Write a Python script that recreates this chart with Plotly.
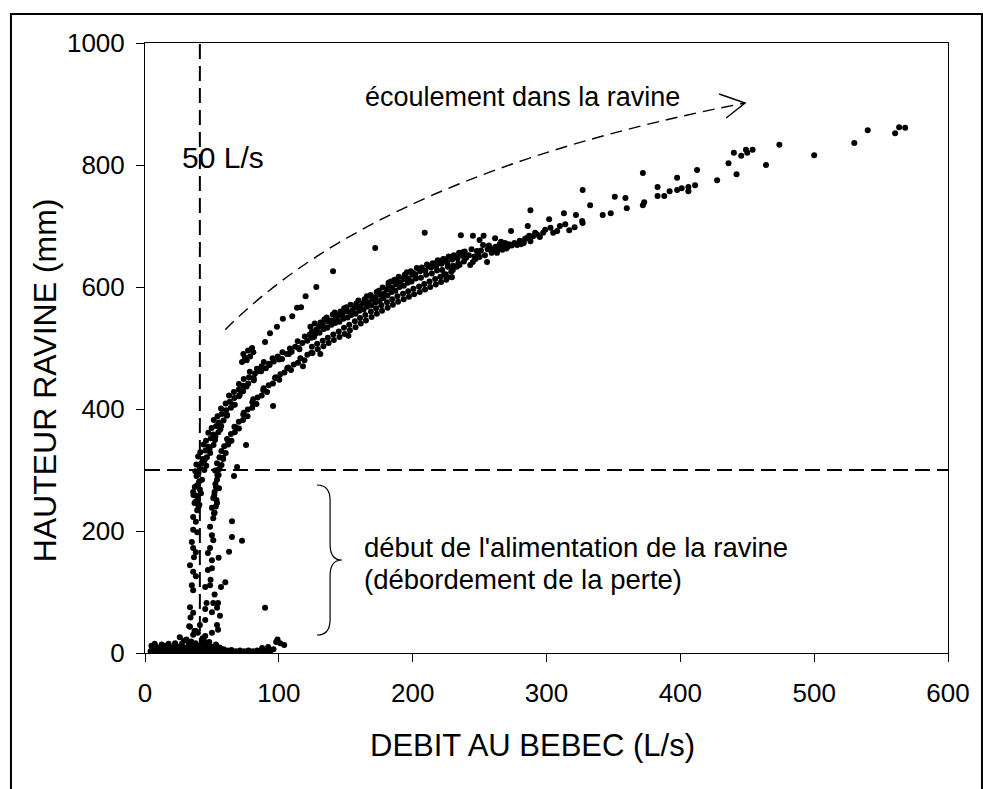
import plotly.graph_objects as go

# --- Débit au Bebec (L/s) et hauteur dans la ravine (mm) -------------------

# nuage de points à faible débit, hauteur quasi nulle
base_q = [4.2, 5.5, 6.8, 8.0, 9.3, 10.5, 11.8, 13.0, 14.2, 15.5, 16.9, 18.0, 19.4, 20.6,
          21.9, 23.0, 24.3, 25.7, 27.0, 28.2, 29.5, 30.8, 32.0, 33.3, 34.6, 35.8, 37.0,
          38.4, 39.6, 40.9, 42.1, 43.4, 44.7, 46.0, 47.2, 48.5, 49.8, 51.0, 52.3, 53.6,
          54.9, 56.1, 57.4, 58.7, 60.0, 61.5, 63.0, 64.6, 66.2, 67.8, 69.4, 71.0, 72.6,
          74.2, 75.8, 77.4, 79.0, 80.6, 82.2, 83.8, 85.4, 87.0, 88.6, 90.0,
          4.8, 7.2, 9.9, 12.4, 15.0, 17.6, 20.1, 22.5, 25.0, 27.6, 30.1, 32.7, 35.3,
          37.8, 40.2, 42.8, 45.4, 47.9, 50.5, 53.0, 55.6,
          26.0, 29.0, 33.6, 41.0, 36.0, 43.0, 38.0, 45.0, 44.0, 48.0, 31.0, 39.5, 34.5,
          93.4, 87.5, 98.0, 104.0, 101.0, 96.0, 92.0, 99.0]
base_h = [3, 8, 2, 11, 4, 1, 9, 3, 12, 5, 2, 10, 6, 1,
          13, 4, 8, 2, 11, 5, 1, 9, 3, 14, 6, 2, 10,
          4, 1, 12, 5, 8, 2, 11, 4, 1, 7, 3, 10, 5,
          2, 8, 3, 6, 1, 4, 2, 5, 1, 3, 2, 4, 1,
          3, 2, 4, 1, 3, 2, 4, 1, 3, 5, 2,
          12, 15, 7, 14, 9, 15, 8, 16, 10, 15, 7, 17, 11,
          16, 8, 18, 12, 16, 10, 14, 9,
          26, 20, 43, 46, 30, 24, 36, 28, 20, 18, 22, 33, 19,
          2, 8, 18, 13, 16, 6, 10, 22]

# montée brutale entre 0 et 300 mm (deux colonnes autour de 40 et 52 L/s)
rise_q = [40.0, 42.6, 39.0, 41.0, 36.0, 38.0, 36.2, 39.6, 37.0, 40.0, 39.0, 36.0, 38.0,
          36.0, 39.0, 35.0, 36.0, 38.0, 36.6, 33.6, 36.0, 38.0, 35.0, 36.0, 33.6, 36.0,
          34.0, 33.0, 37.0, 38.5, 40.5, 37.2, 41.8, 39.2, 37.8, 40.6,
          54.6, 53.8, 55.0, 52.0, 53.0, 51.0, 53.8, 50.0, 52.0, 51.0, 48.6, 50.0, 51.0,
          48.6, 47.0, 50.0, 47.0, 50.0, 45.0, 48.6, 46.0, 51.0, 54.6, 53.8, 45.0, 50.0,
          56.0, 45.0, 53.8, 50.0, 54.6, 56.8, 60.0, 55.0, 49.0, 52.0,
          54.1, 52.6, 55.3, 51.8, 53.4, 52.9, 51.6]
rise_h = [295, 284, 275, 268, 264, 258, 259, 251, 246, 240, 234, 223, 215,
          202, 198, 182, 172, 165, 157, 144, 133, 126, 111, 103, 75, 66,
          58, 44, 36, 290, 281, 272, 262, 256, 248, 243,
          300, 284, 292, 264, 272, 254, 246, 238, 230, 221, 207, 193, 185,
          172, 164, 152, 136, 139, 108, 111, 82, 82, 82, 74, 72, 67,
          61, 54, 46, 33, 38, 108, 116, 156, 120, 96,
          292, 277, 270, 259, 251, 240, 229]

# bande supérieure (crue montante)
upper_q = [37.6, 41.2, 44.3, 38.4, 42.1, 45.8, 39.7, 43.0, 46.2, 41.3, 45.1, 48.7,
           43.8, 47.4, 51.2, 45.6, 49.2, 52.3, 47.3, 51.1, 54.8, 49.8, 53.2, 56.3,
           51.4, 55.2, 58.7, 54.2, 57.3, 61.1, 56.8, 60.6, 64.2, 60.3, 63.4, 67.1,
           62.8, 66.7, 70.2, 66.4, 70.1, 73.3, 70.2, 73.6, 77.2, 73.8, 77.7, 81.3,
           78.3, 82.2, 85.4, 83.6, 87.1, 90.3, 88.8, 92.6, 96.2, 95.3, 99.2, 102.4,
           102.7, 106.1, 109.6, 108.3, 112.2, 115.4, 114.1, 117.6, 121.2, 119.4, 123.1, 126.3,
           124.2, 124.8, 123.6, 127.3, 127.9, 126.8, 130.4, 130.1, 131.2, 133.5, 132.9, 134.1,
           136.2, 136.8, 135.7, 139.4, 139.0, 140.3, 142.1, 142.7, 141.8, 145.3, 145.0, 146.1,
           148.2, 147.6, 148.9, 151.4, 151.0, 150.5, 154.1, 154.7, 153.6, 157.3, 156.8, 157.9,
           160.2, 160.6, 159.5, 163.4, 163.0, 164.1, 166.1, 166.7, 165.8, 169.2, 169.8, 168.6,
           172.4, 172.0, 173.1, 175.3, 175.9, 174.7, 178.1, 178.6, 177.5, 181.2, 180.8, 181.9,
           184.3, 184.9, 183.7, 187.1, 187.6, 186.4, 190.2, 190.8, 189.6, 193.4, 193.0, 194.1,
           196.3, 196.9, 195.7, 199.2, 199.7, 198.6, 202.4, 202.0, 203.1, 206.2, 205.6, 206.8,
           210.1, 209.5, 210.7, 214.3, 213.8, 214.9, 218.2, 217.6, 218.8, 222.1, 221.5, 222.7,
           226.3, 225.7, 226.9, 230.2, 229.6, 230.8, 234.1, 233.5, 234.7, 238.3, 237.7, 238.9,
           182.0, 188.0, 194.0, 200.0, 206.0, 212.0, 218.0, 224.0, 230.0, 236.0,
           44.5, 48.3, 52.6, 56.9, 61.4, 66.0, 70.8, 75.9, 81.2, 86.8, 93.1, 100.2, 107.5, 114.8]
upper_h = [298, 303, 300, 309, 311, 307, 322, 318, 321, 329, 332, 328,
           342, 338, 341, 348, 352, 349, 361, 358, 362, 369, 372, 367,
           382, 378, 381, 388, 392, 389, 401, 398, 402, 409, 412, 407,
           422, 418, 421, 428, 432, 429, 441, 438, 442, 449, 452, 447,
           461, 458, 462, 466, 470, 467, 477, 474, 478, 483, 486, 482,
           493, 490, 494, 499, 502, 498, 511, 508, 512, 519, 522, 518,
           517, 527, 535, 523, 530, 540, 525, 535, 542, 531, 538, 547,
           533, 543, 550, 538, 545, 555, 541, 549, 558, 543, 553, 560,
           548, 556, 565, 550, 560, 567, 554, 561, 571, 556, 566, 573,
           561, 568, 578, 563, 573, 580, 568, 575, 585, 570, 580, 587,
           575, 583, 592, 577, 587, 594, 582, 589, 599, 586, 596, 603,
           592, 599, 609, 594, 605, 612, 600, 607, 617, 602, 613, 620,
           607, 614, 624, 609, 620, 626, 614, 621, 631, 615, 626, 632,
           620, 627, 637, 622, 632, 639, 627, 634, 644, 628, 638, 645,
           633, 641, 650, 635, 645, 652, 639, 647, 656, 642, 651, 658,
           607, 612, 618, 623, 630, 634, 640, 645, 650, 655,
           316, 335, 354, 372, 390, 407, 423, 437, 451, 462, 472, 481, 490, 500]

# bande inférieure (décrue)
lower_q = [52.4, 55.7, 53.8, 57.2, 55.6, 58.4, 57.1, 60.3, 59.2, 62.1, 61.3, 64.6,
           64.2, 67.1, 66.8, 70.2, 70.1, 73.2, 73.4, 76.6, 76.8, 80.1, 80.2, 83.3,
           84.1, 87.2, 88.3, 91.2, 92.4, 95.6, 97.2, 100.3, 101.1, 104.2, 106.3, 109.1,
           111.2, 114.3, 116.1, 119.2, 121.3, 124.2,
           125.2, 124.7, 129.1, 128.6, 133.3, 132.8, 137.2, 136.6, 141.1, 140.7, 145.3, 144.8,
           149.2, 148.7, 153.1, 152.6, 157.3, 156.8, 161.2, 160.7, 165.1, 164.6, 169.3, 168.8,
           173.2, 172.7, 177.1, 176.6, 181.3, 180.8, 185.2, 184.7, 189.1, 188.6, 193.3, 192.8,
           197.2, 196.7, 201.1, 200.6, 205.3, 204.8, 209.2, 208.7, 213.1, 212.6, 217.3, 216.8,
           221.2, 220.7, 225.1, 224.6, 229.3, 228.8,
           58.3, 62.4, 67.6, 73.8, 80.9, 88.7, 97.5, 107.0]
lower_h = [299, 302, 311, 308, 321, 318, 331, 328, 339, 342, 351, 348,
           359, 362, 371, 368, 379, 382, 391, 388, 399, 402, 411, 408,
           419, 422, 431, 428, 439, 442, 451, 448, 457, 460, 467, 464,
           473, 476, 483, 480, 489, 492,
           492, 502, 498, 507, 503, 512, 508, 517, 513, 522, 518, 527,
           523, 533, 529, 538, 534, 544, 540, 549, 545, 554, 551, 560,
           556, 565, 561, 570, 566, 575, 571, 580, 576, 585, 580, 589,
           584, 593, 588, 597, 592, 601, 596, 605, 600, 609, 604, 613,
           608, 617, 612, 621, 616, 625,
           320, 345, 370, 394, 416, 434, 452, 468]

# forts débits (> 220 L/s)
tail_q = [223.0, 226.0, 223.5, 226.0, 230.0, 233.0, 235.0, 235.0, 237.6, 236.0,
          243.0, 244.0, 245.0, 245.0, 248.0, 250.0, 250.0, 252.6, 253.0, 255.6,
          258.0, 259.0, 261.6, 263.0, 265.0, 267.0, 269.0, 271.0, 273.5, 281.0,
          285.0, 286.0, 288.0, 288.0, 291.5, 295.0, 297.5, 302.0, 305.0, 308.0,
          313.0, 314.0, 317.0, 321.0, 322.0, 326.6, 327.0, 327.0, 332.6, 342.0,
          348.0, 351.0, 359.0, 360.0, 372.0, 373.0, 372.0, 383.0, 383.0, 388.0,
          392.0, 397.6, 397.6, 401.0, 406.0, 406.0, 411.0, 412.5, 427.5, 436.0,
          442.0, 440.0, 445.5, 450.0, 449.0, 454.0, 464.0, 474.0, 500.0, 530.0,
          540.0, 560.5, 563.5, 568.0,
          240.0, 242.0, 246.0, 247.0, 249.0, 251.0, 254.0, 256.0, 257.0, 260.0,
          262.0, 264.0, 266.0, 268.0, 270.0, 272.0, 274.0, 276.0, 278.0, 280.0,
          283.0, 284.0, 287.0, 290.0, 293.0, 299.0, 303.0, 310.0]
tail_h = [646, 638, 620, 616, 628, 633, 636, 654, 657, 685,
          636, 662, 641, 684, 659, 649, 677, 669, 684, 641,
          664, 656, 680, 656, 670, 661, 672, 666, 692, 670,
          680, 700, 675, 726, 689, 682, 689, 711, 689, 692,
          721, 703, 693, 698, 718, 708, 705, 759, 734, 718,
          721, 748, 746, 729, 734, 739, 787, 749, 764, 749,
          757, 759, 779, 762, 757, 764, 767, 792, 775, 803,
          785, 820, 815, 820, 825, 825, 800, 833, 816, 836,
          857, 852, 862, 861,
          648, 652, 650, 646, 655, 660, 652, 662, 668, 660,
          666, 662, 674, 665, 663, 670, 668, 672, 669, 676,
          672, 679, 684, 683, 686, 694, 697, 700]

# points isolés
stray_q = [72.5, 74.7, 76.0, 78.5, 80.0, 81.0, 77.0, 73.5, 89.7, 93.4, 98.6, 103.0,
           110.0, 113.6, 116.6, 120.0, 128.0, 140.5, 172.0, 209.0,
           62.8, 65.0, 65.0, 72.5, 89.7, 68.8, 66.5, 75.5, 95.7, 118.0, 131.0, 152.0]
stray_h = [477, 484, 480, 486, 500, 493, 496, 490, 510, 524, 535, 548,
           552, 566, 567, 585, 600, 626, 664, 689,
           166, 190, 216, 184, 74, 305, 290, 341, 405, 470, 490, 520]

x_ticks = [0, 100, 200, 300, 400, 500, 600]
y_ticks = [0, 200, 400, 600, 800, 1000]

seuil_q = 41      # débit seuil marqué « 50 L/s »
seuil_h = 300     # hauteur de débordement

q = base_q + rise_q + upper_q + lower_q + tail_q + stray_q
h = base_h + rise_h + upper_h + lower_h + tail_h + stray_h

FONT = "Arial, Liberation Sans, sans-serif"

fig = go.Figure()
fig.add_trace(go.Scatter(
    x=q, y=h, mode="markers",
    marker=dict(color="black", size=6, line=dict(width=0)),
    showlegend=False, hoverinfo="x+y",
))

shapes = [
    # cadre extérieur
    dict(type="rect", xref="paper", yref="paper", x0=-0.1669, x1=1.0423, y0=-0.40, y1=1.0475,
         line=dict(color="black", width=2), layer="below"),
    # seuils en tirets
    dict(type="line", xref="x", yref="y", x0=seuil_q, x1=seuil_q, y0=0, y1=1000,
         line=dict(color="black", width=2, dash="15px,7px")),
    dict(type="line", xref="x", yref="y", x0=0, x1=600, y0=seuil_h, y1=seuil_h,
         line=dict(color="black", width=2, dash="15px,7px")),
    # flèche courbe « écoulement dans la ravine »
    dict(type="path", xref="x", yref="y",
         path="M 60,530 Q 176,786 448.4,901.6",
         line=dict(color="black", width=1.4, dash="12px,7px")),
    dict(type="path", xref="x", yref="y",
         path="M 429.0,916.4 L 448.4,901.6 L 434.2,877.0",
         line=dict(color="black", width=1.4)),
    # accolade
    dict(type="path", xref="x", yref="y",
         path=("M 128.5,275.4 Q 138.3,275.4 138.3,250 L 138.3,178 "
               "Q 138.3,152.5 147.2,152.5 Q 138.3,152.5 138.3,127 "
               "L 138.3,55 Q 138.3,29.5 128.5,29.5"),
         line=dict(color="black", width=1.2)),
]

annotations = [
    dict(text="50 L/s", x=26.2, y=813, xref="x", yref="y", xanchor="left", yanchor="middle",
         showarrow=False, font=dict(size=30, color="black", family=FONT)),
    dict(text="écoulement dans la ravine", x=163, y=911, xref="x", yref="y",
         xanchor="left", yanchor="middle", showarrow=False,
         font=dict(size=27, color="black", family=FONT)),
    dict(text="début de l'alimentation de la ravine", x=162, y=173, xref="x", yref="y",
         xanchor="left", yanchor="middle", showarrow=False,
         font=dict(size=27.5, color="black", family=FONT)),
    dict(text="(débordement de la perte)", x=162, y=121, xref="x", yref="y",
         xanchor="left", yanchor="middle", showarrow=False,
         font=dict(size=27.5, color="black", family=FONT)),
    dict(text="HAUTEUR RAVINE (mm)", x=-0.1245, y=0.447, xref="paper", yref="paper",
         textangle=-90, xanchor="center", yanchor="middle", showarrow=False,
         font=dict(size=32, color="black", family=FONT)),
    dict(text="DEBIT AU BEBEC (L/s)", x=0.483, y=-0.151, xref="paper", yref="paper",
         xanchor="center", yanchor="middle", showarrow=False,
         font=dict(size=31, color="black", family=FONT)),
]

axis_common = dict(
    showline=True, linecolor="black", linewidth=1, mirror=True,
    ticks="outside", ticklen=8, tickwidth=1, tickcolor="black",
    showgrid=False, zeroline=False,
    tickfont=dict(size=26, color="black", family=FONT),
)

fig.update_layout(
    width=983, height=789,
    margin=dict(l=145, r=35, t=43, b=136),
    paper_bgcolor="white", plot_bgcolor="white",
    shapes=shapes, annotations=annotations,
    xaxis=dict(range=[0, 600], tickvals=x_ticks, ticklabelstandoff=9, **axis_common),
    yaxis=dict(range=[0, 1000], tickvals=y_ticks, ticklabelstandoff=6, **axis_common),
)

fig.write_html("out.html")
